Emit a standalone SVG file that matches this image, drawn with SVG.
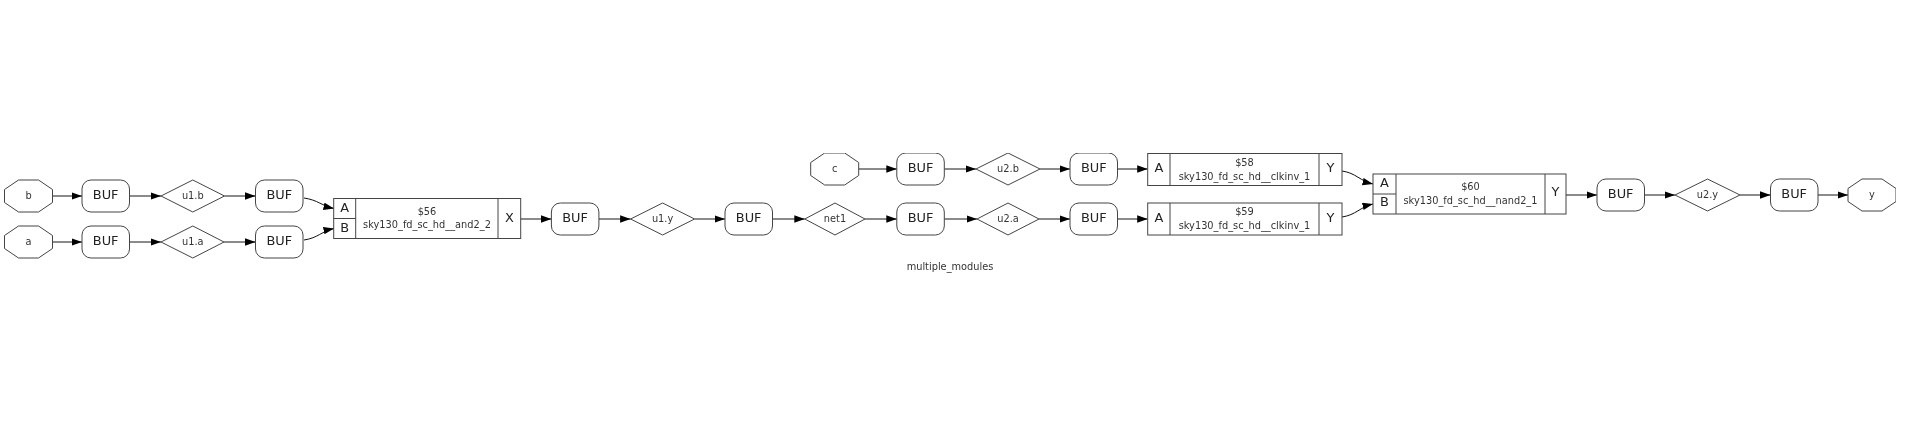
<svg xmlns="http://www.w3.org/2000/svg" width="1909" height="433" viewBox="0 0 1909 433">
<defs>
<filter id="soft" x="0" y="0" width="1" height="1"><feGaussianBlur stdDeviation="0.4"/></filter>
<marker id="a" markerUnits="userSpaceOnUse" markerWidth="12" markerHeight="9" refX="10.500" refY="3.800" orient="auto"><path d="M0 0L10.500 3.800L0 7.600Z" fill="#000"/></marker>
<path id="buf" d="M9 0H38.500A9 9 0 0 1 47.500 9V23A9 9 0 0 1 38.500 32H9A9 9 0 0 1 0 23V9A9 9 0 0 1 9 0Z"/>
<path id="oct" d="M14 0H34L48 9.500V22.500L34 32H14L0 22.500V9.500Z"/>
</defs>
<style>
text{font-family:"DejaVu Sans",sans-serif;text-anchor:middle;fill:#222}
.l{font-size:12.9px}.s{font-size:9.8px;fill:#333}
.n path,.n rect,.n use,.n polygon,.n line{fill:#fff;stroke:#444;stroke-width:1}
#edges path{fill:none;stroke:#111;stroke-width:1;marker-end:url(#a)}
</style>
<rect width="1909" height="433" fill="#fff"/>
<g filter="url(#soft)">
<g id="edges">
<path d="M52.500 196H82"/><path d="M129.500 196H161"/><path d="M224.500 196H255.500"/>
<path d="M52.500 242H82"/><path d="M129.500 242H161"/><path d="M224 242H255.500"/>
<path d="M304 198C318 200 322 206 334 208.500"/><path d="M304 240C318 238 322 231 334 228.500"/>
<path d="M520.700 219H551.400"/><path d="M598.900 219H630.600"/><path d="M694.600 219H725"/><path d="M772.500 219H804.800"/><path d="M865 219H896.800"/><path d="M944.300 219H977"/><path d="M1039 219H1070"/><path d="M1117.500 219H1147.700"/>
<path d="M858.700 169H896.800"/><path d="M944.300 169H976"/><path d="M1040 169H1070"/><path d="M1117.500 169H1147.700"/>
<path d="M1342 171C1356 173 1360 181 1373 184"/><path d="M1342 217C1356 215 1360 207 1373 204"/>
<path d="M1566 195H1597"/><path d="M1644.500 195H1675"/><path d="M1740 195H1770.500"/><path d="M1818 195H1848"/>
</g>
<g id="b" class="n"><use href="#oct" x="4.500" y="180"/><text class="s" x="28.500" y="198.700">b</text></g>
<g id="buf1" class="n"><use href="#buf" x="82" y="180"/><text class="l" x="105.700" y="198.700">BUF</text></g>
<g id="u1b" class="n"><polygon points="161,196 192.800,180 224.500,196 192.800,212"/><text class="s" x="192.800" y="198.700">u1.b</text></g>
<g id="buf2" class="n"><use href="#buf" x="255.500" y="180"/><text class="l" x="279.300" y="198.700">BUF</text></g>
<g id="a1" class="n"><use href="#oct" x="4.500" y="226"/><text class="s" x="28.500" y="244.700">a</text></g>
<g id="buf3" class="n"><use href="#buf" x="82" y="226"/><text class="l" x="105.700" y="244.700">BUF</text></g>
<g id="u1a" class="n"><polygon points="161,242 192.800,226 224,242 192.800,258"/><text class="s" x="192.800" y="244.700">u1.a</text></g>
<g id="buf4" class="n"><use href="#buf" x="255.500" y="226"/><text class="l" x="279.300" y="244.700">BUF</text></g>
<g id="c56" class="n"><rect x="333.700" y="198.500" width="187" height="40"/><line x1="355.700" y1="198.500" x2="355.700" y2="238.500"/><line x1="498" y1="198.500" x2="498" y2="238.500"/><line x1="333.700" y1="218.500" x2="355.700" y2="218.500"/>
<text class="l" x="344.700" y="211.600">A</text><text class="l" x="344.700" y="231.800">B</text><text class="s" x="427" y="215.200">$56</text><text class="s" x="427" y="228">sky130_fd_sc_hd__and2_2</text><text class="l" x="509.500" y="221.700">X</text></g>
<g id="buf5" class="n"><use href="#buf" x="551.400" y="203"/><text class="l" x="575.100" y="221.700">BUF</text></g>
<g id="u1y" class="n"><polygon points="630.600,219 662.600,203 694.600,219 662.600,235"/><text class="s" x="662.600" y="221.700">u1.y</text></g>
<g id="buf6" class="n"><use href="#buf" x="725" y="203"/><text class="l" x="748.700" y="221.700">BUF</text></g>
<g id="net1" class="n"><polygon points="804.800,219 835,203 865,219 835,235"/><text class="s" x="835" y="221.700">net1</text></g>
<g id="buf7" class="n"><use href="#buf" x="896.800" y="203"/><text class="l" x="920.500" y="221.700">BUF</text></g>
<g id="u2a" class="n"><polygon points="977,219 1008,203 1039,219 1008,235"/><text class="s" x="1008" y="221.700">u2.a</text></g>
<g id="buf8" class="n"><use href="#buf" x="1070" y="203"/><text class="l" x="1093.800" y="221.700">BUF</text></g>
<g id="c" class="n"><use href="#oct" x="810.700" y="153"/><text class="s" x="834.700" y="171.700">c</text></g>
<g id="buf9" class="n"><use href="#buf" x="896.800" y="153"/><text class="l" x="920.500" y="171.700">BUF</text></g>
<g id="u2b" class="n"><polygon points="976,169 1008,153 1040,169 1008,185"/><text class="s" x="1008" y="171.700">u2.b</text></g>
<g id="buf10" class="n"><use href="#buf" x="1070" y="153"/><text class="l" x="1093.800" y="171.700">BUF</text></g>
<g id="c58" class="n"><rect x="1147.700" y="153.500" width="194.300" height="32"/><line x1="1170" y1="153.500" x2="1170" y2="185.500"/><line x1="1319" y1="153.500" x2="1319" y2="185.500"/>
<text class="l" x="1159" y="172.200">A</text><text class="s" x="1244.500" y="165.800">$58</text><text class="s" x="1244.500" y="179.800">sky130_fd_sc_hd__clkinv_1</text><text class="l" x="1330.500" y="172.200">Y</text></g>
<g id="c59" class="n"><rect x="1147.700" y="203" width="194.300" height="32"/><line x1="1170" y1="203" x2="1170" y2="235"/><line x1="1319" y1="203" x2="1319" y2="235"/>
<text class="l" x="1159" y="221.700">A</text><text class="s" x="1244.500" y="215.300">$59</text><text class="s" x="1244.500" y="229.300">sky130_fd_sc_hd__clkinv_1</text><text class="l" x="1330.500" y="221.700">Y</text></g>
<g id="c60" class="n"><rect x="1373" y="174" width="193" height="40"/><line x1="1396" y1="174" x2="1396" y2="214"/><line x1="1545" y1="174" x2="1545" y2="214"/><line x1="1373" y1="194" x2="1396" y2="194"/>
<text class="l" x="1384.500" y="186.700">A</text><text class="l" x="1384.500" y="206.400">B</text><text class="s" x="1470.500" y="189.600">$60</text><text class="s" x="1470.500" y="204.300">sky130_fd_sc_hd__nand2_1</text><text class="l" x="1555.500" y="196.400">Y</text></g>
<g id="buf11" class="n"><use href="#buf" x="1597" y="179"/><text class="l" x="1620.700" y="197.700">BUF</text></g>
<g id="u2y" class="n"><polygon points="1675,195 1707.500,179 1740,195 1707.500,211"/><text class="s" x="1707.500" y="197.700">u2.y</text></g>
<g id="buf12" class="n"><use href="#buf" x="1770.500" y="179"/><text class="l" x="1794.200" y="197.700">BUF</text></g>
<g id="y" class="n"><use href="#oct" x="1848" y="179"/><text class="s" x="1872" y="197.700">y</text></g>
<text id="title" class="s" x="950" y="270">multiple_modules</text>
</g>
</svg>
